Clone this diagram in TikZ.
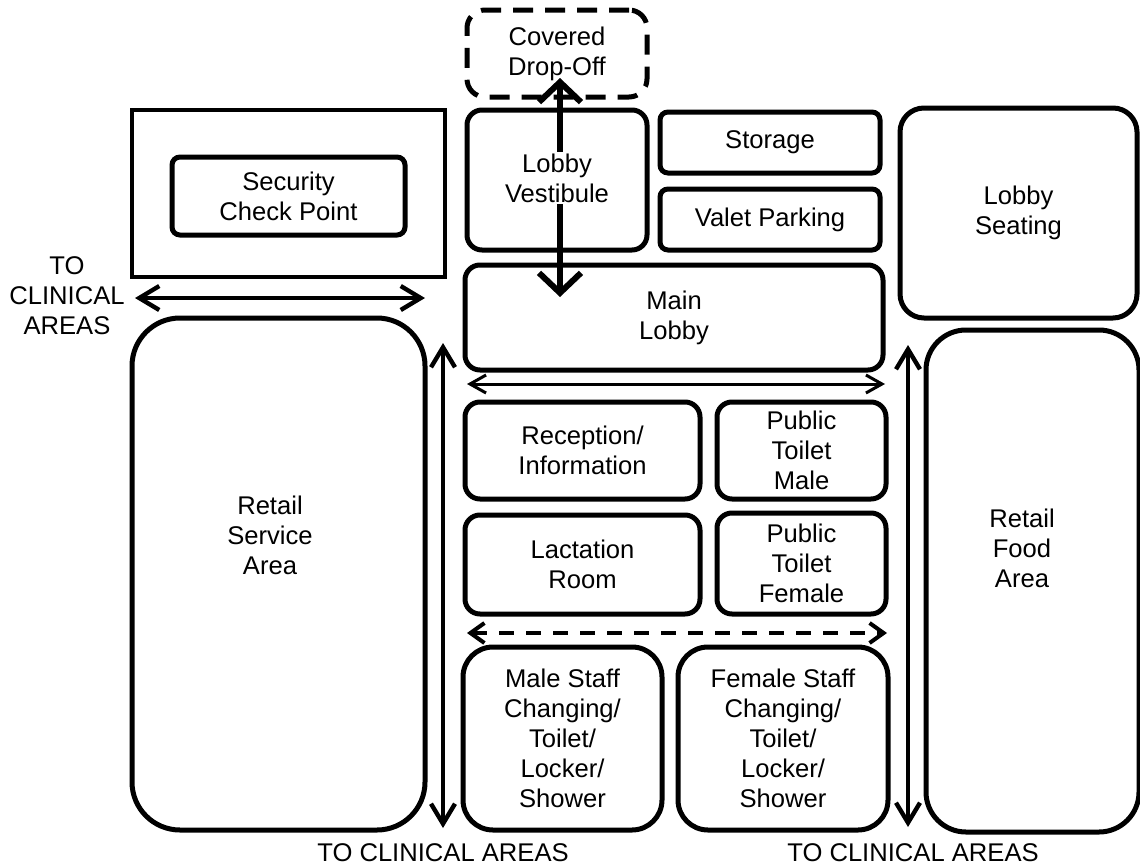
\documentclass[tikz,border=0pt]{standalone}
\usepackage{fontspec}
\setmainfont{Liberation Sans}
\usetikzlibrary{arrows.meta}

\begin{document}
\begin{tikzpicture}[x=0.5pt, y=-0.5pt,
        room/.style={rectangle, draw, line width=2.5pt, rounded corners=7.5pt, inner sep=0pt, align=center, font=\fontsize{12.8}{15}\selectfont},
        roomtext/.style={align=center, inner sep=1pt, font=\fontsize{12.8}{15}\selectfont},
        bigway/.style={line width=3pt, line cap=round, {Straight Barb[length=10pt,width=21pt]}-{Straight Barb[length=10pt,width=21pt]}},
        sideway/.style={line width=2.2pt, {Straight Barb[length=10pt,width=12pt]}-{Straight Barb[length=10pt,width=12pt]}},
        thinway/.style={line width=1.5pt, {Straight Barb[length=8pt,width=9pt]}-{Straight Barb[length=8pt,width=9pt]}},
        staffway/.style={line width=2pt, dash pattern=on 7.5pt off 6pt, {Straight Barb[length=7pt,width=10pt]}-{Straight Barb[length=7pt,width=10pt]}}]

        \useasboundingbox (0,0) rectangle (1140,867);

        \node[room, dash pattern=on 10pt off 6pt, rounded corners=9pt, minimum width=90pt, minimum height=43.5pt] (drop) at (557,53.5) {Covered\\Drop-Off};
        \node[room, minimum width=90pt, minimum height=70pt] (vest) at (557,180) {};
        \node[room, rounded corners=4pt, minimum width=110pt, minimum height=30.5pt] (storage) at (770,142.5) {Storage};
        \node[room, rounded corners=4pt, minimum width=110pt, minimum height=30.5pt] (valet) at (770,219.5) {Valet Parking};
        \node[room, minimum width=209pt, minimum height=52.5pt] (mainlobby) at (674,317.5) {Main\\Lobby};

        \node[room, minimum width=117.5pt, minimum height=48.5pt] (reception) at (582.5,450.5) {Reception/\\Information};
        \node[room, minimum width=84.5pt, minimum height=48.5pt] (toiletmale) at (801.5,450.5) {Public\\Toilet\\Male};
        \node[room, minimum width=117.5pt, minimum height=49.5pt] (lactation) at (582.5,564.5) {Lactation\\Room};
        \node[room, minimum width=84.5pt, minimum height=50.5pt] (toiletfemale) at (801.5,563.5) {Public\\Toilet\\Female};

        \node[room, rounded corners=15pt, minimum width=99.5pt, minimum height=91.5pt] (malestaff) at (562.5,738.5) {Male Staff\\Changing/\\Toilet/\\Locker/\\Shower};
        \node[room, rounded corners=15pt, minimum width=105pt, minimum height=91.5pt] (femalestaff) at (783,738.5) {Female Staff\\Changing/\\Toilet/\\Locker/\\Shower};

        \node[room, rounded corners=12pt, minimum width=118.5pt, minimum height=105pt] (seating) at (1018.5,213) {Lobby\\Seating};
        \node[room, rounded corners=20pt, minimum width=106.5pt, minimum height=251pt] (retailfood) at (1032.5,581) {};
        \node[roomtext] (retailfoodtext) at (1022,548) {Retail\\Food\\Area};

        \node[rectangle, draw, line width=1.6pt, minimum width=156.5pt, minimum height=83.5pt] (security) at (288.5,193.5) {};
        \node[room, rounded corners=4pt, minimum width=116.5pt, minimum height=39pt] (checkpoint) at (288.5,196) {Security\\Check Point};
        \node[room, rounded corners=24pt, minimum width=146.5pt, minimum height=256pt] (retailservice) at (278.5,574) {};
        \node[roomtext] (retailservicetext) at (270,535) {Retail\\Service\\Area};

        \node[roomtext] (clinicalwest) at (67,296) {TO\\CLINICAL\\AREAS};
        \node[roomtext] (clinicalsouth) at (443,853) {TO CLINICAL AREAS};
        \node[roomtext] (clinicaleast) at (913,853) {TO CLINICAL AREAS};

        \coordinate (dropin) at (560,78);
        \coordinate (lobbyin) at (560,297);
        \draw[bigway] (dropin) -- (lobbyin);
        \node[roomtext, fill=white] (vesttext) at (557,178) {Lobby\\Vestibule};

        \coordinate (westin) at (135,298);
        \coordinate (westout) at (425,298);
        \draw[sideway] (westin) -- (westout);

        \coordinate (southtop) at (443,343);
        \coordinate (southend) at (443,828);
        \draw[sideway] (southtop) -- (southend);

        \coordinate (easttop) at (908,345);
        \coordinate (eastend) at (908,827);
        \draw[sideway] (easttop) -- (eastend);

        \coordinate (lobbywest) at (467,384);
        \coordinate (lobbyeast) at (885,384);
        \draw[thinway] (lobbywest) -- (lobbyeast);

        \coordinate (staffwest) at (467,633);
        \coordinate (staffeast) at (887,633);
        \draw[staffway] (staffwest) -- (staffeast);
    \end{tikzpicture}
\end{document}
